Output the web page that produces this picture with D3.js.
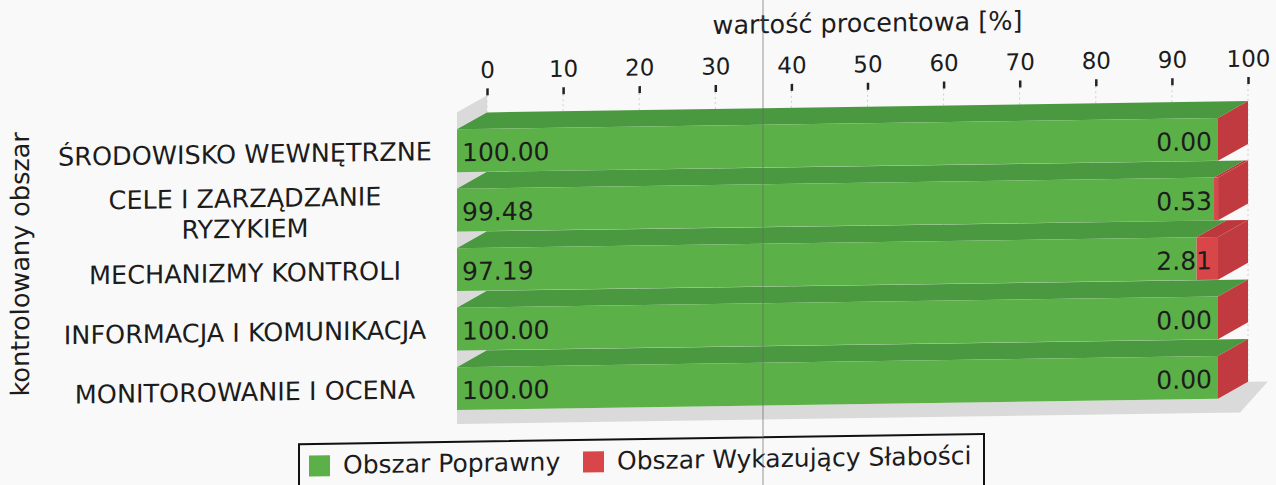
<!DOCTYPE html>
<html>
<head>
<meta charset="utf-8">
<script src="https://cdn.jsdelivr.net/npm/d3@7/dist/d3.min.js"></script>
<style>
  html, body { margin: 0; padding: 0; background: #f9f9f9; }
  svg { display: block; }
  text { font-family: "DejaVu Sans", sans-serif; fill: #1c1c1c; }
</style>
</head>
<body>
<svg id="chart" width="1276" height="485"></svg>
<script>
// ---- data ----
const categories = ["ŚRODOWISKO WEWNĘTRZNE", "CELE I ZARZĄDZANIE\nRYZYKIEM", "MECHANIZMY KONTROLI", "INFORMACJA I KOMUNIKACJA", "MONITOROWANIE I OCENA"];
const poprawny = [100.00, 99.48, 97.19, 100.00, 100.00];
const slabosci = [0.00, 0.53, 2.81, 0.00, 0.00];
const seriesNames = ["Obszar Poprawny", "Obszar Wykazujący Słabości"];
const xTicks = [0, 10, 20, 30, 40, 50, 60, 70, 80, 90, 100];
const xTitle = "wartość procentowa [%]";
const yTitle = "kontrolowany obszar";

// ---- styles ----
const W = 1276, H = 485;
const DX = -30, DY = 16.5;           // 3D depth offset (back -> front)
const skew = 0.85;                    // scan tilt in degrees
const colors = {
  front: ["#5cb048", "#d84649"],
  top:   ["#4a9941", "#bd383d"],
  side:  ["#4a9a41", "#c13a3f"]
};

const svg = d3.select("#chart");
svg.append("rect").attr("width", W).attr("height", H).attr("fill", "#f9f9f9");

const g = svg.append("g")
  .attr("transform", `translate(0,${850 * Math.tan(skew * Math.PI / 180)}) skewY(${-skew})`);

const x = d3.scaleLinear().domain([0, 100]).range([487, 1248]);
const y = d3.scaleBand().domain(categories).range([107, 387.7]).paddingInner(0.28).paddingOuter(0);
const plotTop = 90;
const plotBottom = y.range()[1];
const bw = y.bandwidth();

const rows = categories.map((c, i) => ({ cat: c, p: poprawny[i], s: slabosci[i] }));
const stacked = d3.stack().keys(["p", "s"])(rows);

// left wall
const wall = [[x(0), plotTop], [x(0), plotBottom], [x(0) + DX, plotBottom + DY], [x(0) + DX, plotTop + DY]];
g.append("polygon").attr("points", wall.map(p => p.join(",")).join(" ")).attr("fill", "#dadada");

// floor slab
const ext = 20, thick = 14;
const floor = [
  [x(0) + DX, plotBottom + DY], [x(100) + DX, plotBottom + DY], [x(100), plotBottom],
  [x(100) + ext, plotBottom], [x(100) + ext + DX + 2, plotBottom + DY + thick], [x(0) + DX, plotBottom + DY + thick]
];
g.append("polygon").attr("points", floor.map(p => p.join(",")).join(" ")).attr("fill", "#dadada");

// gridlines on back wall
g.append("g").selectAll("line").data(xTicks).join("line")
  .attr("x1", d => x(d)).attr("x2", d => x(d))
  .attr("y1", plotTop).attr("y2", plotBottom)
  .attr("stroke", "#cfcfcf").attr("stroke-width", 1).attr("stroke-dasharray", "2,3");

// bars
const barsG = g.append("g");
rows.forEach((r, i) => {
  const y0 = y(r.cat);
  stacked.forEach((layer, k) => {
    const a = layer[i][0], b = layer[i][1];
    const top = [[x(a), y0], [x(b), y0], [x(b) + DX, y0 + DY], [x(a) + DX, y0 + DY]];
    barsG.append("polygon").attr("points", top.map(p => p.join(",")).join(" ")).attr("fill", colors.top[k]);
    barsG.append("rect")
      .attr("x", x(a) + DX).attr("y", y0 + DY)
      .attr("width", Math.max(0, x(b) - x(a))).attr("height", bw)
      .attr("fill", colors.front[k]);
    if (k === stacked.length - 1) {
      const side = [[x(b), y0], [x(b), y0 + bw], [x(b) + DX, y0 + bw + DY], [x(b) + DX, y0 + DY]];
      barsG.append("polygon").attr("points", side.map(p => p.join(",")).join(" ")).attr("fill", colors.side[k]);
    }
  });
  const cy = y0 + DY + bw / 2;
  barsG.append("text").attr("x", x(0) + DX + 5).attr("y", cy + 10.7)
    .attr("font-size", 25).text(r.p.toFixed(2));
  barsG.append("text").attr("x", x(100) + DX - 6).attr("y", cy + 10.7)
    .attr("text-anchor", "end").attr("font-size", 25).text(r.s.toFixed(2));
});

// category labels
categories.forEach(c => {
  const lines = c.split("\n");
  const cy = y(c) + DY + bw / 2;
  const lh = 30.5;
  lines.forEach((ln, j) => {
    g.append("text")
      .attr("x", 245)
      .attr("y", cy + (j - (lines.length - 1) / 2) * lh + 9.2)
      .attr("text-anchor", "middle").attr("font-size", 25.5)
      .text(ln);
  });
});

// top axis
const axis = g.append("g").attr("transform", `translate(0,${plotTop})`)
  .call(d3.axisTop(x).tickValues(xTicks).tickSize(7).tickPadding(10.5).tickFormat(d3.format("d")));
axis.select(".domain").remove();
axis.selectAll(".tick line").attr("stroke", "#222").attr("stroke-width", 2.5);
axis.selectAll(".tick text").attr("font-size", 23).attr("fill", "#1c1c1c")
  .style("font-family", "'DejaVu Sans', sans-serif");

// titles
g.append("text").attr("x", (x(0) + x(100)) / 2).attr("y", 32)
  .attr("text-anchor", "middle").attr("font-size", 25.5).text(xTitle);
g.append("text").attr("transform", "translate(29,252) rotate(-90)")
  .attr("text-anchor", "middle").attr("font-size", 25.5).text(yTitle);

// legend
const lg = g.append("g");
lg.append("rect").attr("x", 299).attr("y", 436).attr("width", 685).attr("height", 80)
  .attr("fill", "none").attr("stroke", "#111").attr("stroke-width", 2);
const legX = [309, 583];
seriesNames.forEach((n, k) => {
  lg.append("rect").attr("x", legX[k]).attr("y", 447.5).attr("width", 21).attr("height", 21)
    .attr("fill", colors.front[k]);
  lg.append("text").attr("x", legX[k] + 34).attr("y", 466).attr("font-size", 25).text(n);
});

// scan fold line
svg.append("line").attr("x1", 763).attr("x2", 763).attr("y1", 0).attr("y2", H)
  .attr("stroke", "#666").attr("stroke-opacity", 0.45).attr("stroke-width", 1.5);
</script>
</body>
</html>
